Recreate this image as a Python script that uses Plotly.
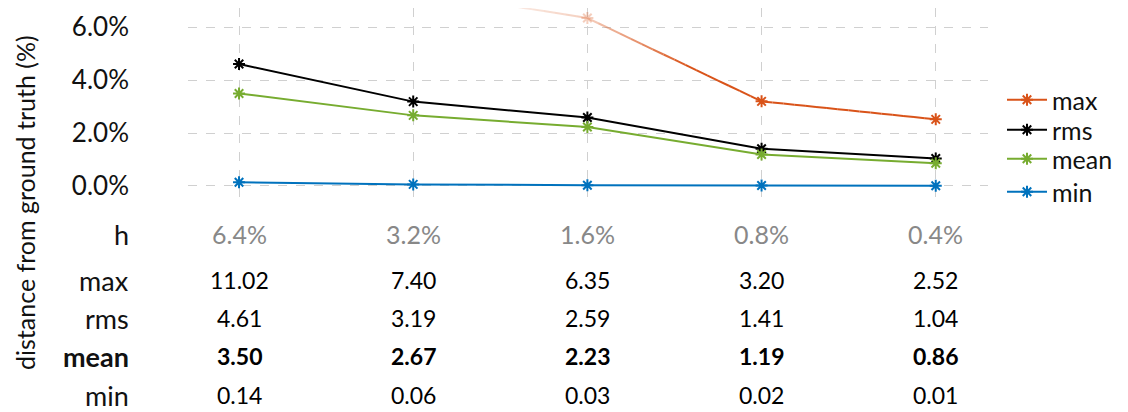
import plotly.graph_objects as go
import numpy as np

h_labels = ["6.4%", "3.2%", "1.6%", "0.8%", "0.4%"]
max_vals = [11.02, 7.40, 6.35, 3.20, 2.52]
rms_vals = [4.61, 3.19, 2.59, 1.41, 1.04]
mean_vals = [3.50, 2.67, 2.23, 1.19, 0.86]
min_vals = [0.14, 0.06, 0.03, 0.02, 0.01]
y_ticks = [0, 2, 4, 6]
y_tick_text = ["0.0%", "2.0%", "4.0%", "6.0%"]

C_MAX = (217, 83, 25)
C_RMS = "#000000"
C_MEAN = "#77AC30"
C_MIN = "#0072BD"
FONT = "Lato"
GRID = "#d0d0d0"

# The page body has an 8px margin; the figure is sized/positioned to compensate.
OFF = 8
W, H = 1128 - OFF, 412 - OFF
PL, PR = 188 - OFF, 988 - OFF          # plot area left/right (figure px)
PT, PB = 0, 200 - OFF                  # plot area top/bottom (figure px)
PW, PH = PR - PL, PB - PT

x = list(range(len(h_labels)))
fig = go.Figure()

Y_LO, Y_HI = -0.53, 6.73
FADE_TOP, FADE_FULL = 7.1, 4.5


def alpha_for(y):
    return float(np.clip((FADE_TOP - y) / (FADE_TOP - FADE_FULL), 0, 1))


# max line drawn with a top fade (styling computed from the data segments)
rgb = "rgb(%d,%d,%d)" % C_MAX
NSUB = 16
for i in range(len(x) - 1):
    x0, x1 = x[i], x[i + 1]
    y0, y1 = max_vals[i], max_vals[i + 1]
    for k in range(NSUB):
        t0, t1 = k / NSUB, (k + 1) / NSUB
        ya, yb = y0 + (y1 - y0) * t0, y0 + (y1 - y0) * t1
        a = alpha_for((ya + yb) / 2)
        if a <= 0:
            continue
        fig.add_trace(go.Scatter(
            x=[x0 + (x1 - x0) * t0, x0 + (x1 - x0) * t1], y=[ya, yb],
            mode="lines", line=dict(color="rgba(%d,%d,%d,%.3f)" % (*C_MAX, a), width=2),
            showlegend=False, hoverinfo="skip"))
marker_cols = ["rgba(%d,%d,%d,%.3f)" % (*C_MAX, alpha_for(v)) for v in max_vals]
fig.add_trace(go.Scatter(
    x=x, y=max_vals, mode="markers",
    marker=dict(symbol="asterisk-open", size=10, color=marker_cols,
                line=dict(color=marker_cols, width=2)),
    showlegend=False))


def fig_py(page_y):
    return (PB - (page_y - OFF)) / PH


legend_rows = {"max": 100, "rms": 130, "mean": 159, "min": 192}
LEG_X = (1052 - 50 - OFF - PL) / PW

# legend entry for max
fig.add_trace(go.Scatter(
    x=[None], y=[None], mode="lines+markers", name="max", legend="legend",
    line=dict(color=rgb, width=2),
    marker=dict(symbol="asterisk-open", size=10, color=rgb, line=dict(color=rgb, width=2))))

for lg, (name, vals, col) in zip(["legend2", "legend3", "legend4"],
                                 [("rms", rms_vals, C_RMS), ("mean", mean_vals, C_MEAN),
                                  ("min", min_vals, C_MIN)]):
    fig.add_trace(go.Scatter(
        x=x, y=vals, mode="lines+markers", name=name, legend=lg,
        line=dict(color=col, width=2),
        marker=dict(symbol="asterisk-open", size=10, color=col, line=dict(color=col, width=2))))

leg_common = dict(xanchor="left", yanchor="middle", font=dict(family=FONT, size=25, color="#111111"),
                  itemwidth=40, bgcolor="rgba(0,0,0,0)", borderwidth=0)

# table below the plot
rows = [
    ("h", h_labels, 234, "#888888", False, 25),
    ("max", ["%.2f" % v for v in max_vals], 280, "#000000", False, 23),
    ("rms", ["%.2f" % v for v in rms_vals], 318, "#000000", False, 23),
    ("mean", ["%.2f" % v for v in mean_vals], 356, "#000000", True, 23),
    ("min", ["%.2f" % v for v in min_vals], 395, "#000000", False, 23),
]
for label, texts, pix, col, bold, vsize in rows:
    lab = "<b>%s</b>" % label if bold else label
    fig.add_annotation(x=(131 - OFF - PL) / PW, xref="paper", y=fig_py(pix), yref="paper", text=lab,
                       showarrow=False, xanchor="right", yanchor="middle",
                       font=dict(family=FONT, size=27, color="#111111"))
    for xi, t in zip(x, texts):
        tt = "<b>%s</b>" % t if bold else t
        fig.add_annotation(x=xi, xref="x", y=fig_py(pix), yref="paper", text=tt,
                           showarrow=False, xanchor="center", yanchor="middle",
                           font=dict(family=FONT, size=vsize, color=col))

fig.add_annotation(x=(25 - OFF - PL) / PW, xref="paper", y=fig_py(203), yref="paper",
                   text="distance from ground truth (%)", textangle=-90, showarrow=False,
                   xanchor="center", yanchor="middle",
                   font=dict(family=FONT, size=25, color="#111111"))

fig.update_layout(
    width=W, height=H,
    margin=dict(l=PL, r=W - PR, t=PT, b=H - PB, pad=0),
    plot_bgcolor="white", paper_bgcolor="white",
    font=dict(family=FONT, color="#111111"),
    legend=dict(x=LEG_X, y=fig_py(legend_rows["max"]), **leg_common),
    legend2=dict(x=LEG_X, y=fig_py(legend_rows["rms"]), **leg_common),
    legend3=dict(x=LEG_X, y=fig_py(legend_rows["mean"]), **leg_common),
    legend4=dict(x=LEG_X, y=fig_py(legend_rows["min"]), **leg_common),
    xaxis=dict(range=[-0.293, 4.30], tickvals=x, showticklabels=False,
               showgrid=True, gridcolor=GRID, griddash="dash", gridwidth=1,
               zeroline=False, showline=False, ticks=""),
    yaxis=dict(range=[Y_LO, Y_HI], tickvals=y_ticks, ticktext=y_tick_text,
               showgrid=True, gridcolor=GRID, griddash="dash", gridwidth=1,
               zeroline=False, showline=False, ticks="", ticklabelstandoff=58,
               tickfont=dict(family=FONT, size=26, color="#111111")),
)

fig.write_html("out.html")
